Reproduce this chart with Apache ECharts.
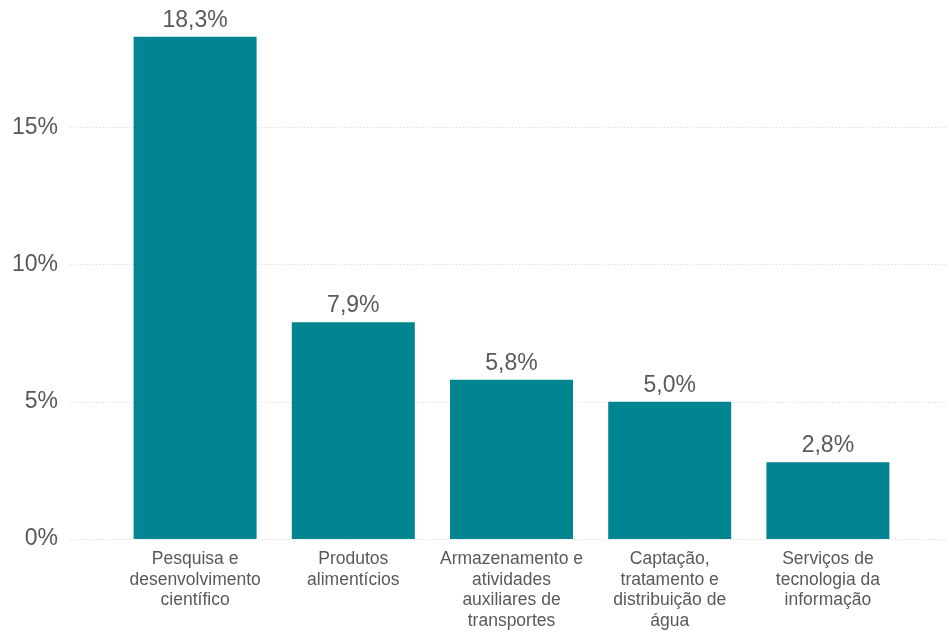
<!DOCTYPE html>
<html>
<head>
<meta charset="utf-8">
<script src="https://cdn.jsdelivr.net/npm/echarts@6/dist/echarts.min.js"></script>
<style>
html,body{margin:0;padding:0;background:#fff;}
#c{width:949px;height:632px;}
</style>
</head>
<body>
<div id="c"></div>
<script>
const categories = [
  "Pesquisa e\ndesenvolvimento\ncientífico",
  "Produtos\nalimentícios",
  "Armazenamento e\natividades\nauxiliares de\ntransportes",
  "Captação,\ntratamento e\ndistribuição de\nágua",
  "Serviços de\ntecnologia da\ninformação"
];
const values = [18.3, 7.9, 5.8, 5.0, 2.8];
const yTicks = [0, 5, 10, 15, 20];

const fmt = v => v.toFixed(1).replace('.', ',') + '%';
const font = '"Liberation Sans", Arial, sans-serif';
const chart = echarts.init(document.getElementById('c'), null, {renderer: 'canvas'});
const yMin = yTicks[0], yMax = yTicks[yTicks.length - 1], yStep = yTicks[1] - yTicks[0];
chart.setOption({
  animation: false,
  grid: [
    {left: 70, right: 1, top: -10, bottom: 93, containLabel: false, outerBoundsMode: 'none'},
    {left: 116, right: 42, top: -10, bottom: 93, containLabel: false, outerBoundsMode: 'none'}
  ],
  xAxis: [
    {type: 'category', gridIndex: 0, data: categories, show: false},
    {
      type: 'category', gridIndex: 1, data: categories,
      axisLine: {show: false}, axisTick: {show: false},
      axisLabel: {
        interval: 0, margin: 10, color: '#595959', fontSize: 17.5,
        lineHeight: 20.5, fontFamily: font, align: 'center'
      }
    }
  ],
  yAxis: [
    {
      type: 'value', gridIndex: 0, min: yMin, max: yMax, interval: yStep,
      axisLine: {show: false}, axisTick: {show: false},
      axisLabel: {
        margin: 12, color: '#595959', fontSize: 23, fontFamily: font,
        formatter: v => v + '%'
      },
      splitLine: {show: true, lineStyle: {color: '#d4d4d4', width: 1, type: [1, 2.3]}}
    },
    {
      type: 'value', gridIndex: 1, min: yMin, max: yMax, interval: yStep,
      show: false, splitLine: {show: false}
    }
  ],
  series: [{
    type: 'bar', xAxisIndex: 1, yAxisIndex: 1,
    data: values, barWidth: 123,
    itemStyle: {color: '#008591'},
    label: {
      show: true, position: 'top', distance: 5,
      color: '#595959', fontSize: 23, fontFamily: font,
      formatter: p => fmt(p.value)
    }
  }]
});
</script>
</body>
</html>
